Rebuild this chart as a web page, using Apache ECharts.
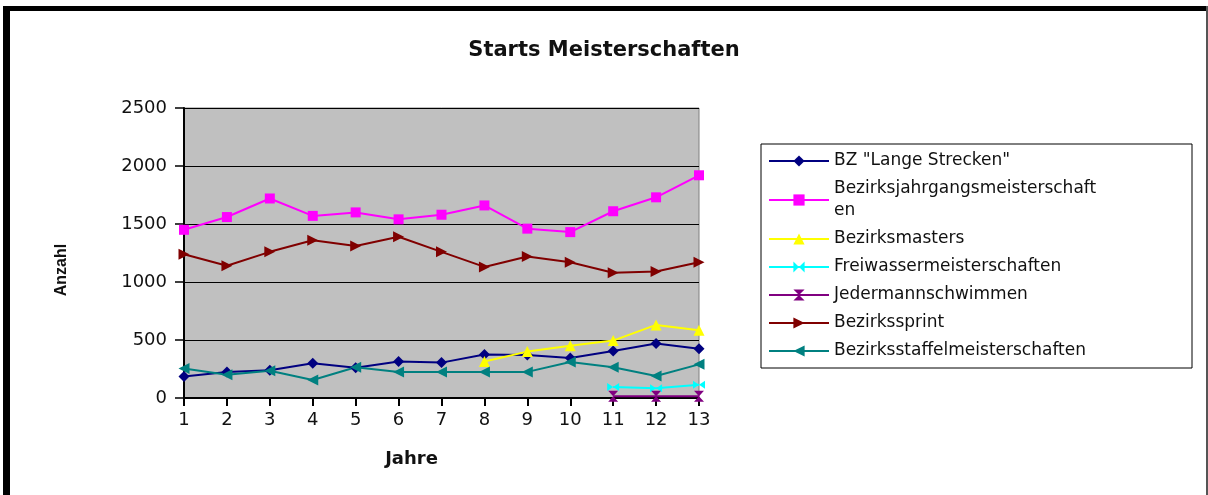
<!DOCTYPE html>
<html>
<head>
<meta charset="utf-8">
<script src="https://cdn.jsdelivr.net/npm/echarts@6/dist/echarts.min.js"></script>
<style>
html,body{margin:0;padding:0;background:#fff;}
#chart{width:1208px;height:495px;}
</style>
</head>
<body>
<div id="chart"></div>
<script>
var years = ['1','2','3','4','5','6','7','8','9','10','11','12','13'];
var yTicks = [0, 500, 1000, 1500, 2000, 2500];
var bzLangeStrecken = [185, 225, 240, 300, 260, 315, 305, 375, 370, 345, 405, 470, 425];
var bezirksjahrgang = [1450, 1560, 1720, 1570, 1600, 1540, 1580, 1660, 1460, 1430, 1610, 1730, 1920];
var bezirksmasters = [null, null, null, null, null, null, null, 315, 400, 450, 495, 630, 585];
var freiwasser = [null, null, null, null, null, null, null, null, null, null, 95, 85, 115];
var jedermann = [null, null, null, null, null, null, null, null, null, null, 15, 15, 15];
var bezirkssprint = [1240, 1140, 1260, 1360, 1310, 1390, 1260, 1130, 1220, 1170, 1080, 1090, 1170];
var bezirksstaffel = [255, 200, 235, 155, 265, 225, 225, 225, 225, 310, 265, 190, 290];

var FONT = 'DejaVu Sans';
function mk(name, data, color, symbol, size) {
  return {
    name: name, type: 'line', data: data,
    symbol: symbol, symbolSize: size, showSymbol: true,
    connectNulls: false,
    lineStyle: {color: color, width: 2},
    itemStyle: {color: color, borderWidth: 0},
    emphasis: {disabled: true},
    animation: false
  };
}
var chart = echarts.init(document.getElementById('chart'), null, {renderer: 'canvas'});
chart.setOption({
  backgroundColor: '#ffffff',
  animation: false,
  title: {
    text: 'Starts Meisterschaften',
    left: 'center', top: 35,
    textStyle: {fontFamily: FONT, fontWeight: 'bold', fontSize: 21, color: '#111'}
  },
  graphic: [
    {type: 'rect', shape: {x: 3, y: 6, width: 1205, height: 5}, style: {fill: '#000'}, silent: true},
    {type: 'rect', shape: {x: 3, y: 6, width: 7, height: 489}, style: {fill: '#000'}, silent: true},
    {type: 'rect', shape: {x: 1206, y: 6, width: 2, height: 489}, style: {fill: '#555'}, silent: true}
  ],
  grid: {
    left: 184, right: 509, top: 108, bottom: 97,
    show: true, backgroundColor: '#c0c0c0', borderColor: '#808080', borderWidth: 1
  },
  legend: {
    left: 761, top: 144,
    orient: 'vertical',
    backgroundColor: '#fff',
    borderColor: '#000', borderWidth: 1,
    padding: [6, 8, 6, 7],
    itemGap: 6,
    itemWidth: 60, itemHeight: 14,
    textStyle: {fontFamily: FONT, fontSize: 17, color: '#111', lineHeight: 22, width: 350},
    formatter: function (n) {
      return n === 'Bezirksjahrgangsmeisterschaften' ? 'Bezirksjahrgangsmeisterschaft\nen' : n;
    },
    selectedMode: false
  },
  xAxis: {
    type: 'category', data: years, boundaryGap: false,
    name: 'Jahre', nameLocation: 'middle', nameGap: 52,
    nameTextStyle: {fontFamily: FONT, fontWeight: 'bold', fontSize: 18, color: '#111', padding: [0, 60, 0, 0]},
    axisLine: {lineStyle: {color: '#000', width: 2}},
    axisTick: {show: true, length: 8, lineStyle: {color: '#000', width: 2}, interval: 0},
    axisLabel: {fontFamily: FONT, fontSize: 18, color: '#111', margin: 13, interval: 0}
  },
  yAxis: {
    type: 'value', min: yTicks[0], max: yTicks[yTicks.length - 1], interval: 500,
    name: 'Anzahl', nameLocation: 'middle', nameGap: 114, nameRotate: 90,
    nameTextStyle: {fontFamily: 'Liberation Sans', fontWeight: 'bold', fontSize: 16, color: '#111', padding: [0, 34, 0, 0]},
    axisLine: {show: true, lineStyle: {color: '#000', width: 2}},
    axisTick: {show: true, length: 9, lineStyle: {color: '#000', width: 1.5}},
    axisLabel: {fontFamily: FONT, fontSize: 18, color: '#111', margin: 17, formatter: function (v) { return String(v); }},
    splitLine: {show: true, lineStyle: {color: '#000', width: 1.2}}
  },
  series: [
    mk('BZ "Lange Strecken"', bzLangeStrecken, '#000080', 'diamond', 11),
    mk('Bezirksjahrgangsmeisterschaften', bezirksjahrgang, '#ff00ff', 'rect', 10),
    mk('Bezirksmasters', bezirksmasters, '#ffff00', 'triangle', 11),
    mk('Freiwassermeisterschaften', freiwasser, '#00ffff', 'path://M0,0 L10,5 L0,10 Z M20,0 L10,5 L20,10 Z', [12, 8]),
    mk('Jedermannschwimmen', jedermann, '#800080', 'path://M0,0 L10,0 L5,5 L10,10 L0,10 L5,5 Z', [10, 11]),
    mk('Bezirkssprint', bezirkssprint, '#800000', 'path://M0,0 L10,5 L0,10 Z', 11),
    mk('Bezirksstaffelmeisterschaften', bezirksstaffel, '#008080', 'path://M10,0 L0,5 L10,10 Z', 11)
  ]
});
</script>
</body>
</html>
